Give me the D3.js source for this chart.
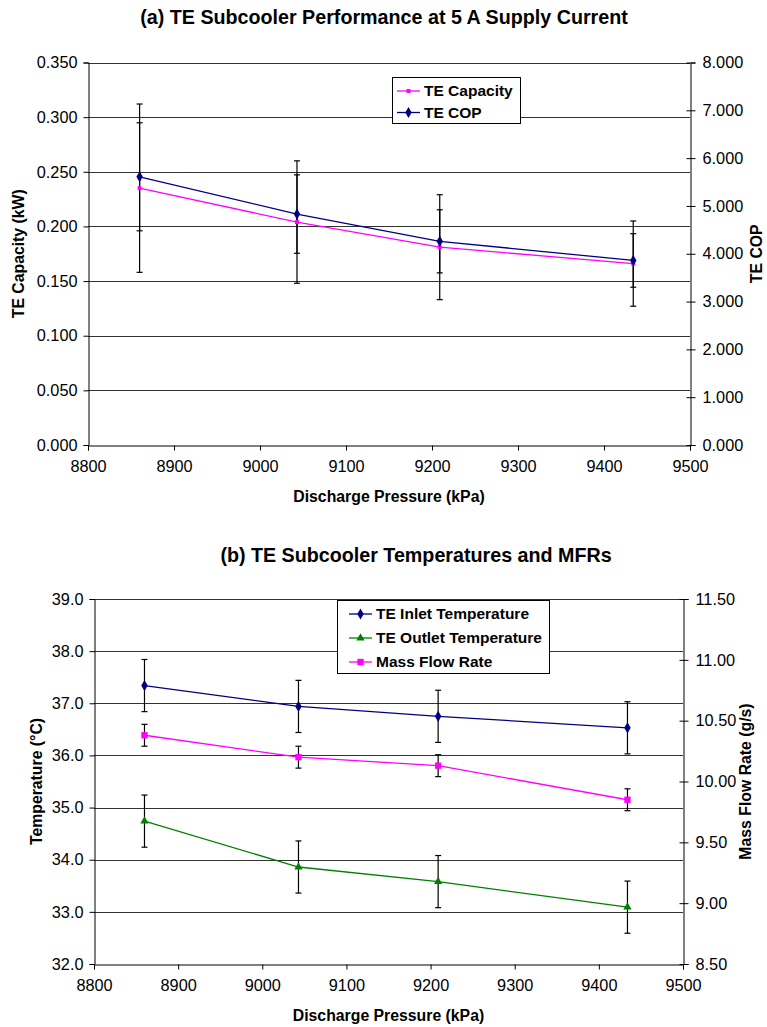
<!DOCTYPE html>
<html>
<head>
<meta charset="utf-8">
<script src="https://cdn.jsdelivr.net/npm/d3@7"></script>
<style>
  body { margin: 0; background: #fff; }
  svg { font-family: "Liberation Sans", Arial, sans-serif; }
  .axis text { font-size: 16.3px; fill: #000; }
  .axis path, .axis line { stroke: #000; }
  .title { font-size: 19.7px; font-weight: bold; }
  .atitle { font-size: 15.8px; font-weight: bold; }
  .legend text { font-size: 15.5px; font-weight: bold; }
</style>
</head>
<body>
<div id="chart"></div>
<script>
// shared x values (kPa)
const pressure = [8860, 9043, 9209, 9434];
const xTicks = [8800, 8900, 9000, 9100, 9200, 9300, 9400, 9500];

// (a) performance
const teCapacity = [0.235, 0.204, 0.181, 0.166];
const teCapacityErr = [0.077, 0.056, 0.048, 0.039];
const teCop = [5.61, 4.83, 4.26, 3.86];
const teCopErr = [1.13, 0.82, 0.66, 0.56];
const capTicks = [0, 0.05, 0.1, 0.15, 0.2, 0.25, 0.3, 0.35];
const copTicks = [0, 1, 2, 3, 4, 5, 6, 7, 8];

// (b) temperatures and MFR
const inletTemp = [37.34, 36.94, 36.75, 36.53];
const outletTemp = [34.74, 33.86, 33.58, 33.09];
const tempErr = [0.5, 0.5, 0.5, 0.5];
const massFlow = [10.38, 10.20, 10.13, 9.85];
const massFlowErr = [0.09, 0.09, 0.09, 0.09];
const tempTicks = [32, 33, 34, 35, 36, 37, 38, 39];
const mfrTicks = [8.5, 9, 9.5, 10, 10.5, 11, 11.5];

const W = 767, H = 1027;
const svg = d3.select('#chart').append('svg')
  .attr('width', W).attr('height', H);

// draws one dual-axis panel
function panel(o) {
  const x = d3.scaleLinear().domain([8800, 9500]).range([o.left, o.right]);
  const yL = d3.scaleLinear().domain(o.lDomain).range([o.bottom, o.top]);
  const yR = d3.scaleLinear().domain(o.rDomain).range([o.bottom, o.top]);
  const g = svg.append('g');

  // gridlines
  g.append('g').selectAll('line')
    .data(o.lTicks.slice(1))
    .enter().append('line')
    .attr('x1', o.left).attr('x2', o.right)
    .attr('y1', d => Math.round(yL(d)) + 0.5)
    .attr('y2', d => Math.round(yL(d)) + 0.5)
    .attr('stroke', '#333')
    .attr('stroke-width', 1);

  g.append('g')
    .attr('class', 'axis')
    .attr('transform', `translate(${Math.round(o.left) + 0.5},0)`)
    .call(d3.axisLeft(yL).tickValues(o.lTicks).tickFormat(d3.format(o.lFmt))
      .tickSizeOuter(0).tickSize(5).tickPadding(6));
  const ra = g.append('g')
    .attr('class', 'axis')
    .attr('transform', `translate(${Math.round(o.right) + 0.5},0)`)
    .call(d3.axisRight(yR).tickValues(o.rTicks).tickFormat(d3.format(o.rFmt))
      .tickSizeOuter(0).tickSize(5).tickPadding(7));
  ra.selectAll('.tick line').attr('x1', -4);
  g.append('g')
    .attr('class', 'axis')
    .attr('transform', `translate(0,${Math.round(o.bottom) + 0.5})`)
    .call(d3.axisBottom(x).tickValues(xTicks).tickFormat(d3.format('d'))
      .tickSizeOuter(0).tickSize(5).tickPadding(10));

  // titles
  g.append('text').attr('class', 'title')
    .attr('x', o.titleX).attr('y', o.titleY)
    .attr('text-anchor', 'middle').text(o.title);
  g.append('text').attr('class', 'atitle')
    .attr('x', (o.left + o.right) / 2).attr('y', o.bottom + 57)
    .attr('text-anchor', 'middle').text('Discharge Pressure (kPa)');
  g.append('text').attr('class', 'atitle')
    .attr('transform', `translate(${o.lTitleX},${(o.top + o.bottom) / 2}) rotate(-90)`)
    .attr('text-anchor', 'middle').text(o.lName);
  g.append('text').attr('class', 'atitle')
    .attr('transform', `translate(${o.rTitleX},${(o.top + o.bottom) / 2}) rotate(-90)`)
    .attr('text-anchor', 'middle').text(o.rName);

  const line = d3.line();
  o.series.forEach(s => {
    const y = s.axis === 'left' ? yL : yR;
    const pts = pressure.map((p, i) => [x(p), y(s.values[i]), y(s.values[i] - s.err[i]), y(s.values[i] + s.err[i])]);
    // error bars
    const eb = g.append('g').attr('stroke', '#000').attr('stroke-width', 1.2);
    eb.selectAll('.v').data(pts).enter().append('line')
      .attr('x1', d => d[0]).attr('x2', d => d[0])
      .attr('y1', d => d[2]).attr('y2', d => d[3]);
    eb.selectAll('.lo').data(pts).enter().append('line')
      .attr('x1', d => d[0] - 3).attr('x2', d => d[0] + 3)
      .attr('y1', d => d[2]).attr('y2', d => d[2]);
    eb.selectAll('.hi').data(pts).enter().append('line')
      .attr('x1', d => d[0] - 3).attr('x2', d => d[0] + 3)
      .attr('y1', d => d[3]).attr('y2', d => d[3]);
    s.pts = pts;
  });
  o.series.forEach(s => {
    g.append('path')
      .attr('d', line(s.pts.map(d => [d[0], d[1]])))
      .attr('fill', 'none').attr('stroke', s.color).attr('stroke-width', 1.3);
    g.append('g').selectAll('path').data(s.pts).enter().append('path')
      .attr('transform', d => `translate(${d[0]},${d[1]})`)
      .attr('d', d3.symbol().type(s.symbol).size(s.size))
      .attr('fill', s.color);
  });

  // legend
  const lg = g.append('g').attr('class', 'legend');
  lg.append('rect')
    .attr('x', o.legend.x + 0.5).attr('y', o.legend.y + 0.5)
    .attr('width', o.legend.w).attr('height', o.legend.h)
    .attr('fill', '#fff').attr('stroke', '#000').attr('stroke-width', 1);
  o.series.forEach((s, i) => {
    const ly = o.legend.y + o.legend.first + i * o.legend.step;
    const lx = o.legend.x + o.legend.pad;
    lg.append('line')
      .attr('x1', lx).attr('x2', lx + 23)
      .attr('y1', ly - 5).attr('y2', ly - 5)
      .attr('stroke', s.color).attr('stroke-width', 1.3);
    lg.append('path')
      .attr('transform', `translate(${lx + 11.5},${ly - 5})`)
      .attr('d', d3.symbol().type(s.symbol).size(s.size))
      .attr('fill', s.color);
    lg.append('text').attr('x', lx + 27).attr('y', ly).text(s.name);
  });
}

panel({
  left: 88, right: 690, top: 62.5, bottom: 445,
  lDomain: [0, 0.35], rDomain: [0, 8],
  lTicks: capTicks, rTicks: copTicks, lFmt: '.3f', rFmt: '.3f',
  title: '(a) TE Subcooler Performance at 5 A Supply Current', titleX: 384, titleY: 24,
  lName: 'TE Capacity (kW)', rName: 'TE COP', lTitleX: 24, rTitleX: 762,
  legend: { x: 392, y: 77, w: 128, h: 46, pad: 5, first: 19, step: 21.5 },
  series: [
    { name: 'TE Capacity', values: teCapacity, err: teCapacityErr, axis: 'left',
      color: '#ff00ff', symbol: d3.symbolSquare, size: 16 },
    { name: 'TE COP', values: teCop, err: teCopErr, axis: 'right',
      color: '#000080', symbol: d3.symbolDiamond, size: 36 }
  ]
});

panel({
  left: 94, right: 683, top: 599, bottom: 964,
  lDomain: [32, 39], rDomain: [8.5, 11.5],
  lTicks: tempTicks, rTicks: mfrTicks, lFmt: '.1f', rFmt: '.2f',
  title: '(b) TE Subcooler Temperatures and MFRs', titleX: 416, titleY: 562,
  lName: 'Temperature (\u00b0C)', rName: 'Mass Flow Rate (g/s)', lTitleX: 42, rTitleX: 751,
  legend: { x: 337, y: 600, w: 212, h: 73, pad: 12, first: 19, step: 24 },
  series: [
    { name: 'TE Inlet Temperature', values: inletTemp, err: tempErr, axis: 'left',
      color: '#000080', symbol: d3.symbolDiamond, size: 36 },
    { name: 'TE Outlet Temperature', values: outletTemp, err: tempErr, axis: 'left',
      color: '#008000', symbol: d3.symbolTriangle, size: 30 },
    { name: 'Mass Flow Rate', values: massFlow, err: massFlowErr, axis: 'right',
      color: '#ff00ff', symbol: d3.symbolSquare, size: 40 }
  ]
});
</script>
</body>
</html>
